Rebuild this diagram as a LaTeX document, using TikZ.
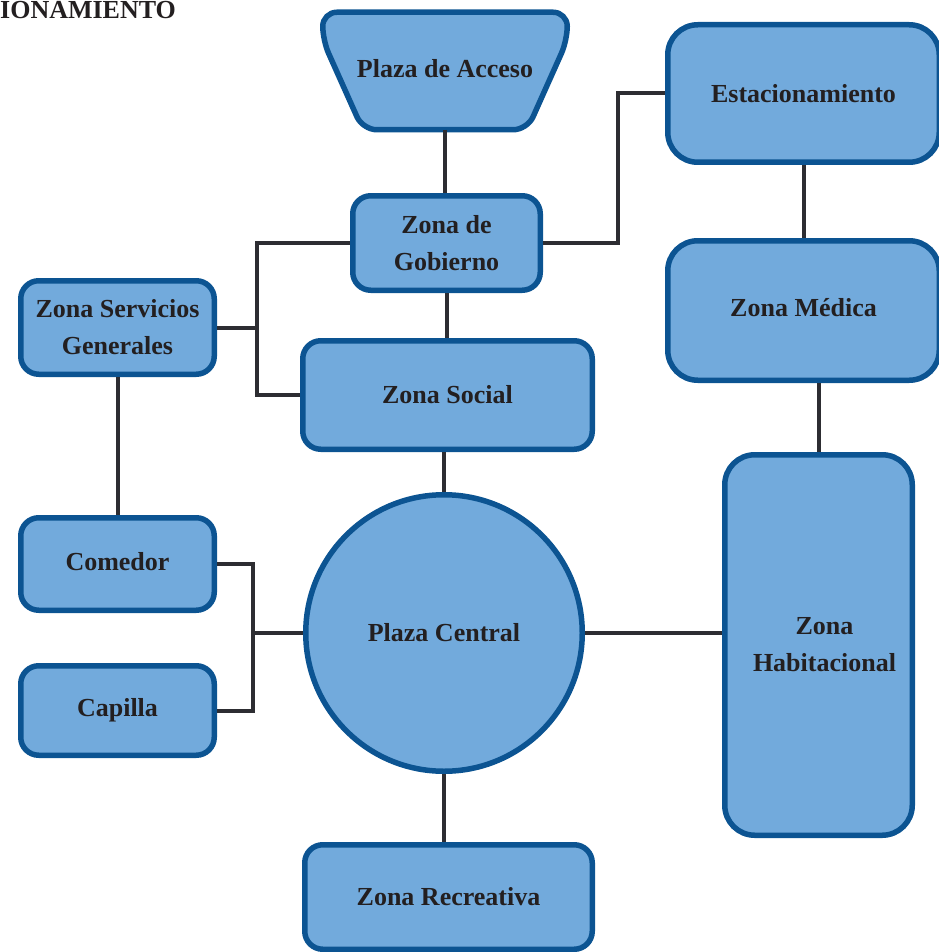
\documentclass[tikz,border=0pt]{standalone}
\usepackage{fontspec}
\setmainfont{Liberation Serif}
\usetikzlibrary{calc,backgrounds}
\definecolor{zonefill}{RGB}{114,170,220}
\definecolor{zoneedge}{RGB}{12,84,146}
\definecolor{linkgray}{RGB}{45,45,50}
\definecolor{inkdark}{RGB}{35,31,32}
\newcommand\zonefont{\fontsize{26}{37}\selectfont\bfseries}

\begin{document}
\begin{tikzpicture}[x=1pt,y=-1pt,
  zone/.style={draw=zoneedge, fill=zonefill, line width=5.5pt, rounded corners=18pt,
    text=inkdark, font=\zonefont, align=center, inner sep=0pt},
  bigzone/.style={zone, rounded corners=30pt},
  plain/.style={text=inkdark, font=\zonefont, align=center, inner sep=0pt, outer sep=2.75pt},
  link/.style={draw=linkgray, line width=4pt},
]
\useasboundingbox (0,0) rectangle (938,952);

% heading at the top left
\node[anchor=base west, inner sep=0pt, text=inkdark,
      font=\fontsize{26}{30}\selectfont\bfseries] (title) at (0,19) {IONAMIENTO};

% zones
\node[plain, minimum width=239, minimum height=112] (acceso) at (445,71)
  {\raisebox{6pt}{Plaza de Acceso}};
\begin{scope}[on background layer]
  \draw[draw=zoneedge, fill=zonefill, line width=5.5pt, rounded corners=14pt]
    (acceso.north west) -- (acceso.north east)
    -- ($(acceso.north east)+(0,28)$) -- ($(acceso.south east)+(-40,0)$)
    -- ($(acceso.south west)+(40,0)$) -- ($(acceso.north west)+(0,28)$) -- cycle;
\end{scope}

\node[zone, minimum width=187.5, minimum height=94.5] (gobierno) at (446.5,243) {Zona de\\Gobierno};
\node[bigzone, minimum width=271.5, minimum height=137.5] (est) at (803.5,93.5) {Estacionamiento};
\node[bigzone, minimum width=271.5, minimum height=139.5] (medica) at (803.5,310.5) {\raisebox{6pt}{Zona Médica}};
\node[zone, minimum width=193.5, minimum height=93.5] (servicios) at (117.5,327.5) {Zona Servicios\\Generales};
\node[zone, minimum width=289.5, minimum height=108.5] (social) at (447.5,395) {Zona Social};
\node[zone, minimum width=193.5, minimum height=92.5] (comedor) at (117.5,564) {\raisebox{5pt}{Comedor}};
\node[zone, minimum width=193.5, minimum height=89.5] (capilla) at (117.5,710.5) {Capilla};
\node[zone, circle, minimum size=276.5] (plaza) at (444,633) {Plaza Central};
\node[bigzone, minimum width=187.5, minimum height=380.5] (hab) at (818.5,645) {\hspace*{12pt}Zona\\\hspace*{12pt}Habitacional};
\node[zone, minimum width=287.5, minimum height=104.5] (recreativa) at (448.5,897) {Zona Recreativa};

% connections
\draw[link] (acceso.south) -- (acceso.south |- gobierno.north);
\draw[link] (gobierno.east) -- ++(75,0) |- (est.west);
\draw[link] (gobierno.west) -- ++(-93,0) |- (social.west);
\draw[link] (servicios.east) -- ++(40,0);
\draw[link] (gobierno.south) -- (gobierno.south |- social.north);
\draw[link] (plaza.north) -- (plaza.north |- social.south);
\draw[link] (servicios.south) -- (comedor.north);
\draw[link] (comedor.east) -- ++(36,0) |- (capilla.east);
\draw[link] (plaza.west) -- ++(-50,0);
\draw[link] (est.south) -- (medica.north);
\draw[link] (hab.north) -- (hab.north |- medica.south);
\draw[link] (plaza.east) -- (plaza.east -| hab.west);
\draw[link] (plaza.south) -- (plaza.south |- recreativa.north);
\end{tikzpicture}
\end{document}
